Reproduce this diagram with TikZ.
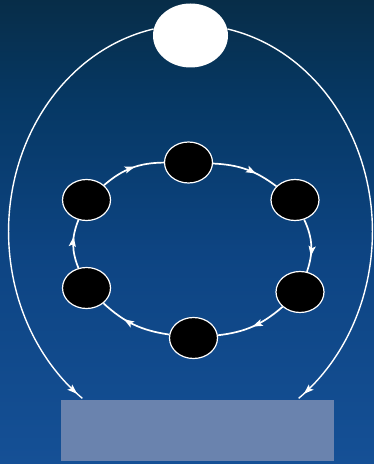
\documentclass[tikz,border=0pt]{standalone}
\usetikzlibrary{arrows.meta,decorations.markings,shapes.geometric}
\definecolor{bgtop}{RGB}{7,45,72}
\definecolor{bgup}{RGB}{6,56,100}
\definecolor{bgmid}{RGB}{13,68,130}
\definecolor{bgbot}{RGB}{21,80,150}
\definecolor{boxfill}{RGB}{106,131,174}
\pgfdeclareverticalshading{bgshade}{100bp}{color(0bp)=(bgbot); color(25bp)=(bgbot); color(48bp)=(bgmid); color(64bp)=(bgup); color(75bp)=(bgtop); color(100bp)=(bgtop)}
\tikzset{
  dot/.style={ellipse, draw=white, line width=1.2pt, fill=black,
    minimum width=48pt, minimum height=41pt, inner sep=0pt},
  topdot/.style={ellipse, fill=white, minimum width=75pt, minimum height=64pt, inner sep=0pt},
  basebox/.style={rectangle, fill=boxfill, minimum width=273pt, minimum height=61pt, inner sep=0pt},
  ring/.style={draw=white, line width=1.7pt},
  midarrow/.style={postaction={decorate}, decoration={markings,
    mark=at position #1 with {\arrow[white]{Stealth[length=10pt,width=7pt,inset=2pt]}}}},
}
\begin{document}
\begin{tikzpicture}[x=1pt,y=1pt]
  \useasboundingbox (0,0) rectangle (374,464);
  \shade[shading=bgshade] (0,0) rectangle (374,464);
  % nodes
  \node[basebox] (box) at (197.5,33.5) {};
  \node[topdot] (top) at (190.5,428.5) {};
  \node[dot] (T)  at (188.5,301.5) {};
  \node[dot] (UL) at (86.5,264) {};
  \node[dot] (UR) at (295,264) {};
  \node[dot] (LL) at (86.5,176) {};
  \node[dot] (LR) at (300,172) {};
  \node[dot] (B)  at (193.5,126) {};
  % big arcs from the top ellipse to the box
  \draw[ring, line width=1.4pt, midarrow=0.985] (top.170)
    arc[start angle=101.6, end angle=233.6, x radius=181.5pt, y radius=207pt];
  \draw[ring, line width=1.4pt, midarrow=0.985] (top.10)
    arc[start angle=78.4, end angle=-53.6, x radius=181.5pt, y radius=207pt];
  % inner cycle
  \draw[ring, midarrow=0.55] (UL) to[bend left=20] (T);
  \draw[ring, midarrow=0.65] (T) to[bend left=17] (UR);
  \draw[ring, midarrow=0.7] (UR) to[bend left=22] (LR);
  \draw[ring, midarrow=0.5] (LR) to[bend left=17] (B);
  \draw[ring, midarrow=0.65] (B) to[bend left=17] (LL);
  \draw[ring, midarrow=0.65] (LL) to[bend left=22] (UL);
\end{tikzpicture}
\end{document}
